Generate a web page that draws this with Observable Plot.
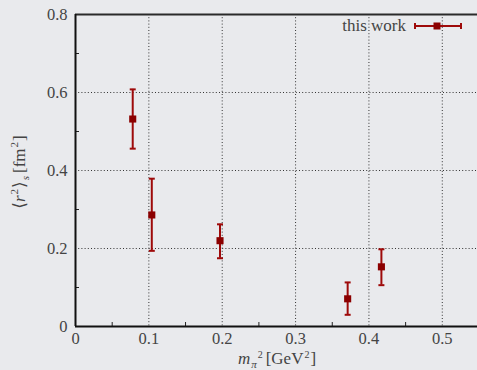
<!DOCTYPE html>
<html>
<head>
<meta charset="utf-8">
<script src="https://cdn.jsdelivr.net/npm/d3@7"></script>
<script src="https://cdn.jsdelivr.net/npm/@observablehq/plot@0.6"></script>
<style>
  html, body { margin: 0; padding: 0; background: #e9eaed; }
  #chart { width: 477px; height: 370px; }
  #chart svg, #chart svg text { font-family: "Liberation Serif", "DejaVu Serif", serif !important; }
</style>
</head>
<body>
<div id="chart"></div>
<script>
// Data
const mpi2   = [0.078, 0.104, 0.197, 0.371, 0.417];
const r2     = [0.532, 0.286, 0.220, 0.071, 0.153];
const r2Low  = [0.456, 0.194, 0.175, 0.030, 0.106];
const r2High = [0.608, 0.379, 0.262, 0.113, 0.198];

const xTicks = [0, 0.1, 0.2, 0.3, 0.4, 0.5];
const yTicks = [0, 0.2, 0.4, 0.6, 0.8];
const xMinor = [0.05, 0.15, 0.25, 0.35, 0.45];
const yMinor = [0.1, 0.3, 0.5, 0.7];
const xGrid = [0.1, 0.2, 0.3, 0.4, 0.5];
const yGrid = [0.2, 0.4, 0.6];
const legendLabel = "this work";

const data = mpi2.map((x, i) => ({x, y: r2[i], lo: r2Low[i], hi: r2High[i]}));

const red = "#8b0000";
const barRed = "#9e0a0a";
const font = "Liberation Serif";
const fmt = d => d === 0 ? "0" : d.toFixed(1);

const capSymbol = {
  draw(ctx, size) { ctx.moveTo(-3, 0); ctx.lineTo(3, 0); }
};

const chart = Plot.plot({
  width: 477,
  height: 370,
  marginLeft: 75,
  marginTop: 14,
  marginBottom: 44,
  marginRight: 0,
  style: {background: "#e9eaed", fontFamily: font, fontSize: "16.5px", color: "#444", overflow: "visible"},
  x: {domain: [0, 0.548]},
  y: {domain: [0, 0.8]},
  marks: [
    Plot.ruleX(xGrid, {x: d => d, stroke: "#333", strokeWidth: 1, strokeDasharray: "1,2.2"}),
    Plot.ruleY(yGrid, {y: d => d, stroke: "#333", strokeWidth: 1, strokeDasharray: "1,2.2"}),
    Plot.axisX({ticks: xTicks, tickSize: 0, tickPadding: 6, tickFormat: fmt, label: null, fill: "#444"}),
    Plot.axisY({ticks: yTicks, tickSize: 0, tickPadding: 8, tickFormat: fmt, label: null, fill: "#444"}),
    Plot.axisX({ticks: xMinor, tickSize: -4, text: null, label: null, stroke: "#222"}),
    Plot.axisY({ticks: yMinor, tickSize: -4, text: null, label: null, stroke: "#222"}),
    Plot.ruleY([0.8], {stroke: "#2a2a2a", strokeWidth: 2}),
    Plot.ruleY([0], {stroke: "#111", strokeWidth: 2}),
    Plot.ruleX([0], {stroke: "#111", strokeWidth: 2}),
    Plot.ruleX(data, {x: "x", y1: "lo", y2: "hi", stroke: barRed, strokeWidth: 2}),
    Plot.dot(data, {x: "x", y: "lo", symbol: capSymbol, stroke: barRed, strokeWidth: 2, fill: "none"}),
    Plot.dot(data, {x: "x", y: "hi", symbol: capSymbol, stroke: barRed, strokeWidth: 2, fill: "none"}),
    Plot.dot(data, {x: "x", y: "y", symbol: "square", r: 4, fill: red, stroke: "none"})
  ]
});

document.getElementById("chart").appendChild(chart);

// Axis titles with math formatting
const svg = d3.select(chart);
const xl = svg.append("text")
  .attr("x", 277).attr("y", 363.5)
  .attr("text-anchor", "middle")
  .attr("fill", "#444").attr("font-size", 17);
xl.append("tspan").attr("font-style", "italic").text("m");
xl.append("tspan").attr("font-size", 11).attr("font-style", "italic").attr("dx", 1).attr("dy", 4).text("π");
xl.append("tspan").attr("font-size", 10).attr("dx", 1).attr("dy", -10).text("2");
xl.append("tspan").attr("dx", 3).attr("dy", 6).text("[GeV");
xl.append("tspan").attr("font-size", 10).attr("dx", 1).attr("dy", -6).text("2");
xl.append("tspan").attr("dx", 1).attr("dy", 6).text("]");

const yl = svg.append("text")
  .attr("transform", "translate(25,172) rotate(-90)")
  .attr("text-anchor", "middle")
  .attr("fill", "#444").attr("font-size", 17);
yl.append("tspan").text("⟨");
yl.append("tspan").attr("font-style", "italic").text("r");
yl.append("tspan").attr("font-size", 11).attr("dx", 1).attr("dy", -7).text("2");
yl.append("tspan").attr("dx", 1).attr("dy", 7).text("⟩");
yl.append("tspan").attr("font-size", 11).attr("font-style", "italic").attr("dx", 1).attr("dy", 4).text("s");
yl.append("tspan").attr("dx", 3).attr("dy", -4).text("[fm");
yl.append("tspan").attr("font-size", 11).attr("dx", 1).attr("dy", -7).text("2");
yl.append("tspan").attr("dx", 1).attr("dy", 7).text("]");

// Legend
const lg = svg.append("g");
lg.append("text").attr("x", 406).attr("y", 31).attr("text-anchor", "end")
  .attr("fill", "#444").attr("font-size", 17).text(legendLabel);
lg.append("line").attr("x1", 415).attr("x2", 461).attr("y1", 26).attr("y2", 26)
  .attr("stroke", barRed).attr("stroke-width", 2);
lg.append("line").attr("x1", 415).attr("x2", 415).attr("y1", 23).attr("y2", 29)
  .attr("stroke", barRed).attr("stroke-width", 2);
lg.append("line").attr("x1", 461).attr("x2", 461).attr("y1", 23).attr("y2", 29)
  .attr("stroke", barRed).attr("stroke-width", 2);
lg.append("rect").attr("x", 433.5).attr("y", 22.5).attr("width", 7).attr("height", 7).attr("fill", red);
</script>
</body>
</html>
